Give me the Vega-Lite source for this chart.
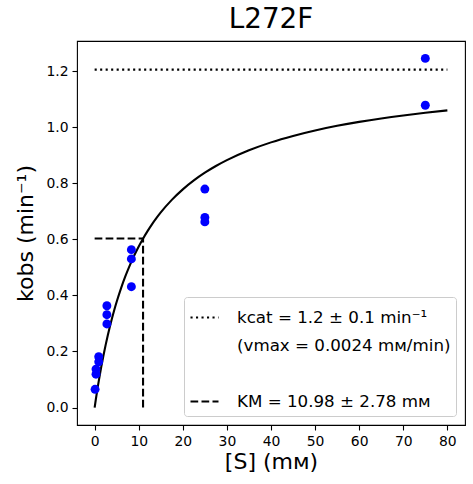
{
  "$schema": "https://vega.github.io/schema/vega-lite/v6.json",
  "width": 388,
  "height": 384,
  "autosize": {"type": "none"},
  "padding": {"left": 77, "top": 41, "right": 8, "bottom": 59},
  "background": "white",
  "title": {
    "text": "L272F",
    "font": "DejaVu Sans",
    "fontSize": 27.8,
    "fontWeight": "normal",
    "color": "black",
    "offset": 7
  },
  "config": {
    "view": {"stroke": "black", "strokeWidth": 1.1},
    "axis": {
      "domain": false,
      "grid": false,
      "tickColor": "black",
      "tickSize": 5,
      "tickWidth": 1.1,
      "labelFont": "DejaVu Sans",
      "labelFontSize": 13.9,
      "labelColor": "black",
      "labelPadding": 4,
      "titleFont": "DejaVu Sans",
      "titleFontSize": 22,
      "titleFontWeight": "normal",
      "titleColor": "black"
    },
    "legend": {
      "labelFont": "DejaVu Sans",
      "labelFontSize": 16.7,
      "labelColor": "black",
      "labelLimit": 400
    }
  },
  "datasets": {
    "points": [
      {"x": 0.103, "y": 0.065},
      {"x": 0.309, "y": 0.137},
      {"x": 0.309, "y": 0.119},
      {"x": 0.926, "y": 0.181},
      {"x": 0.926, "y": 0.163},
      {"x": 2.778, "y": 0.363},
      {"x": 2.778, "y": 0.331},
      {"x": 2.778, "y": 0.298},
      {"x": 8.333, "y": 0.563},
      {"x": 8.333, "y": 0.53},
      {"x": 8.333, "y": 0.431},
      {"x": 25, "y": 0.779},
      {"x": 25, "y": 0.678},
      {"x": 25, "y": 0.662},
      {"x": 75, "y": 1.245},
      {"x": 75, "y": 1.078}
    ],
    "curve": [
      {"x": 0, "y": 0},
      {"x": 0.25, "y": 0.0268},
      {"x": 0.5, "y": 0.0525},
      {"x": 0.75, "y": 0.077},
      {"x": 1, "y": 0.1006},
      {"x": 1.5, "y": 0.1448},
      {"x": 2, "y": 0.1857},
      {"x": 2.5, "y": 0.2235},
      {"x": 3, "y": 0.2586},
      {"x": 3.5, "y": 0.2913},
      {"x": 4, "y": 0.3218},
      {"x": 4.5, "y": 0.3503},
      {"x": 5, "y": 0.377},
      {"x": 6, "y": 0.4258},
      {"x": 7, "y": 0.4691},
      {"x": 8, "y": 0.5079},
      {"x": 9, "y": 0.5428},
      {"x": 10, "y": 0.5744},
      {"x": 11, "y": 0.6031},
      {"x": 12, "y": 0.6292},
      {"x": 13, "y": 0.6533},
      {"x": 14, "y": 0.6753},
      {"x": 15, "y": 0.6957},
      {"x": 17.5, "y": 0.7404},
      {"x": 20, "y": 0.7779},
      {"x": 22.5, "y": 0.8098},
      {"x": 25, "y": 0.8373},
      {"x": 27.5, "y": 0.8612},
      {"x": 30, "y": 0.8821},
      {"x": 35, "y": 0.9172},
      {"x": 40, "y": 0.9455},
      {"x": 45, "y": 0.9686},
      {"x": 50, "y": 0.988},
      {"x": 55, "y": 1.0045},
      {"x": 60, "y": 1.0186},
      {"x": 65, "y": 1.0309},
      {"x": 70, "y": 1.0416},
      {"x": 75, "y": 1.0511},
      {"x": 80, "y": 1.0596}
    ],
    "guides": [
      {"series": "kcat", "x": 0, "x2": 80, "y": 1.205, "y2": 1.205},
      {"series": "KM", "x": 0, "x2": 10.98, "y": 0.6025, "y2": 0.6025},
      {"series": "KM", "x": 10.98, "x2": 10.98, "y": 0, "y2": 0.6025}
    ]
  },
  "layer": [
    {
      "data": {"name": "guides"},
      "mark": {"type": "rule", "color": "black", "strokeWidth": 2.1},
      "encoding": {
        "x": {"field": "x", "type": "quantitative", "title": "[S] (mᴍ)",
              "scale": {"domain": [-4, 84], "nice": false, "zero": false}},
        "x2": {"field": "x2"},
        "y": {"field": "y", "type": "quantitative", "title": "kobs (min⁻¹)",
              "scale": {"domain": [-0.0623, 1.307], "nice": false, "zero": false}},
        "y2": {"field": "y2"},
        "strokeDash": {
          "field": "series",
          "type": "nominal",
          "scale": {
            "domain": ["kcat", "vmax", "gap", "KM"],
            "range": [[2.1, 3.4], [0, 1000], [0, 1000], [7.7, 3.3]]
          },
          "legend": {
            "title": null,
            "orient": "bottom-right",
            "offset": 9,
            "padding": 5,
            "fillColor": "rgba(255,255,255,0.8)",
            "strokeColor": "#cccccc",
            "cornerRadius": 3,
            "symbolType": "stroke",
            "symbolSize": 784,
            "symbolStrokeWidth": 2.1,
            "symbolStrokeColor": "black",
            "rowPadding": 3,
            "labelOffset": 17,
            "labelLimit": 400,
            "labelExpr": "datum.value === 'kcat' ? 'kcat = 1.2 ± 0.1 min⁻¹' : datum.value === 'vmax' ? '(vmax = 0.0024 mᴍ/min)' : datum.value === 'KM' ? 'KM = 10.98 ± 2.78 mᴍ' : ' '"
          }
        }
      }
    },
    {
      "data": {"name": "curve"},
      "mark": {"type": "line", "color": "black", "strokeWidth": 2.1, "interpolate": "monotone"},
      "encoding": {
        "x": {"field": "x", "type": "quantitative", "title": "[S] (mᴍ)",
              "scale": {"domain": [-4, 84], "nice": false, "zero": false}},
        "y": {"field": "y", "type": "quantitative", "title": "kobs (min⁻¹)",
              "scale": {"domain": [-0.0623, 1.307], "nice": false, "zero": false}}
      }
    },
    {
      "data": {"name": "points"},
      "mark": {"type": "circle", "color": "#0000ff", "opacity": 1, "size": 80},
      "encoding": {
        "x": {"field": "x", "type": "quantitative", "title": "[S] (mᴍ)",
              "scale": {"domain": [-4, 84], "nice": false, "zero": false},
              "axis": {"values": [0, 10, 20, 30, 40, 50, 60, 70, 80], "titlePadding": 4}},
        "y": {"field": "y", "type": "quantitative", "title": "kobs (min⁻¹)",
              "scale": {"domain": [-0.0623, 1.307], "nice": false, "zero": false},
              "axis": {"values": [0, 0.2, 0.4, 0.6, 0.8, 1.0, 1.2], "format": ".1f", "titlePadding": 8}}
      }
    }
  ]
}
